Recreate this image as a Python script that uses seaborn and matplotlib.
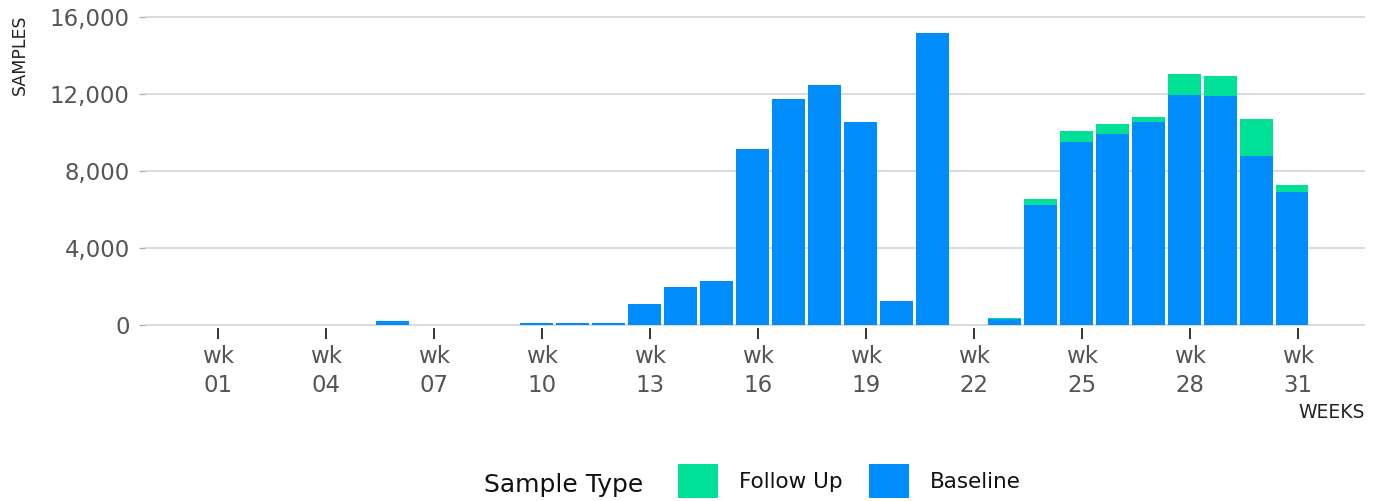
import matplotlib
matplotlib.use("Agg")
import matplotlib.pyplot as plt
from matplotlib.patches import Patch
import seaborn as sns
import pandas as pd

weeks = list(range(1, 32))
baseline = [0, 0, 0, 0, 0, 200, 0, 0, 0, 120, 120, 120, 1090, 1970, 2290,
            9140, 11740, 12470, 10545, 1250, 15170, 0, 300, 6215, 9490, 9940,
            10560, 11965, 11880, 8780, 6910]
follow_up = [0] * 22 + [80, 345, 605, 520, 245, 1075, 1055, 1940, 360]
tick_weeks = list(range(1, 32, 3))
tick_labels = [f"wk\n{w:02d}" for w in tick_weeks]
y_ticks = [0, 4000, 8000, 12000, 16000]

BLUE = "#008cfa"
GREEN = "#00e096"
TICK_OFFSET = 0.15  # ticks sit slightly right of bar centres in the reference

df = pd.DataFrame({"week": weeks, "Baseline": baseline, "Follow Up": follow_up})
df["total"] = df["Baseline"] + df["Follow Up"]

sns.set_theme(style="white")
plt.rcParams["font.family"] = ["DejaVu Sans"]

fig = plt.figure(figsize=(13.8, 5.01), dpi=100)
ax = fig.add_axes([145 / 1380, 1 - 327.9 / 501, 1220 / 1380, 318.6 / 501])

sns.barplot(data=df, x="week", y="total", native_scale=True, color=GREEN,
            saturation=1, width=0.9, ax=ax, linewidth=0)
sns.barplot(data=df, x="week", y="Baseline", native_scale=True, color=BLUE,
            saturation=1, width=0.9, ax=ax, linewidth=0)

ax.set_xlim(-1.03 + TICK_OFFSET, 32.87 + TICK_OFFSET)
ax.set_ylim(-150, 16400)
ax.set_yticks(y_ticks)
ax.set_yticklabels([f"{v:,}" for v in y_ticks])
ax.set_xticks([w + TICK_OFFSET for w in tick_weeks])
ax.set_xticklabels(tick_labels, linespacing=1.35)

for y in y_ticks:
    ax.axhline(y, color="#d4d4d4", lw=1.2, zorder=0)
ax.set_axisbelow(True)
for s in ax.spines.values():
    s.set_visible(False)

ax.tick_params(axis="x", length=8, width=1.4, color="#333333", pad=4,
               labelsize=16.5, labelcolor="#555555", bottom=True)
ax.tick_params(axis="y", length=4.5, width=1.0, color="#b0b0b0", pad=6.5,
               labelsize=16.5, labelcolor="#555555", left=True)

ax.set_xlabel("WEEKS", fontsize=13.5, color="#222222", ha="right", va="top")
ax.xaxis.set_label_coords(1.0, (327.9 - 403) / 318.6)
ax.set_ylabel("SAMPLES", fontsize=12.5, color="#222222", va="center")
ax.yaxis.set_label_coords((20 - 145) / 1220, (327.9 - 55) / 318.6)

fig.text(484 / 1380, 1 - 485 / 501, "Sample Type", fontsize=18, color="#111111",
         ha="left", va="center")
handles = [Patch(facecolor=GREEN, edgecolor="none", label="Follow Up"),
           Patch(facecolor=BLUE, edgecolor="none", label="Baseline")]
fig.legend(handles=handles, loc="center left", ncol=2,
           bbox_to_anchor=(678 / 1380, 1 - 481 / 501), frameon=False,
           fontsize=15.5, handlelength=1.85, handleheight=2.1, handletextpad=1.0,
           columnspacing=1.2, borderpad=0, borderaxespad=0,
           labelcolor="#111111")

fig.savefig("out.png", dpi=100)
